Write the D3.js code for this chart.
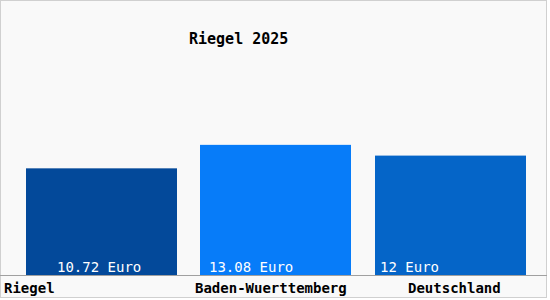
<!DOCTYPE html>
<html><head><meta charset="utf-8">
<script src="https://cdn.jsdelivr.net/npm/d3@7"></script>
<style>
html,body{margin:0;padding:0;background:#fff;}
svg{display:block;}
text{font-family:"DejaVu Sans Mono",monospace;}
</style></head><body>
<script>
const title = "Riegel 2025";
const categories = ["Riegel", "Baden-Wuerttemberg", "Deutschland"];
const values = [10.72, 13.08, 12];
const valueLabels = ["10.72 Euro", "13.08 Euro", "12 Euro"];
const colors = ["#03499a", "#077cf9", "#0565c8"];

const W = 550, H = 300;
const svg = d3.select("body").append("svg").attr("width", W).attr("height", H);
svg.append("rect").attr("x", 0.5).attr("y", 0.5).attr("width", 546).attr("height", 297)
  .attr("fill", "#f9f9f9").attr("stroke", "#d0d0d0");

const x = d3.scaleBand().domain(categories).range([26, 526]).paddingInner(24/175).paddingOuter(0);
const y = d3.scaleLinear().domain([0, 20]).range([275, 76]);
const bx = c => Math.floor(x(c));

// bars
svg.selectAll("rect.bar").data(values).enter().append("rect")
  .attr("class", "bar")
  .attr("x", (d, i) => bx(categories[i]))
  .attr("width", 151)
  .attr("y", d => y(d))
  .attr("height", d => y(0) - y(d))
  .attr("fill", (d, i) => colors[i]);

// axis line
svg.append("line").attr("x1", 0).attr("x2", 547).attr("y1", 275.5).attr("y2", 275.5)
  .attr("stroke", "#a0a0a0").attr("stroke-width", 1);

// value labels (offsets from band start)
const valOffsets = [31, 9, 5];
svg.selectAll("text.val").data(valueLabels).enter().append("text")
  .attr("class", "val")
  .attr("x", (d, i) => bx(categories[i]) + valOffsets[i])
  .attr("y", 272)
  .attr("fill", "#ffffff").attr("font-size", "14px")
  .text(d => d);

// category labels
const catOffsets = [-22, -5, 33];
svg.selectAll("text.cat").data(categories).enter().append("text")
  .attr("class", "cat")
  .attr("x", (d, i) => bx(categories[i]) + catOffsets[i])
  .attr("y", 293)
  .attr("fill", "#000").attr("font-size", "14px").attr("font-weight", "bold")
  .text(d => d);

svg.append("text").attr("x", 189).attr("y", 44).attr("font-size", "15px").attr("font-weight", "bold").attr("fill", "#000")
  .text(title);
</script>
</body></html>
